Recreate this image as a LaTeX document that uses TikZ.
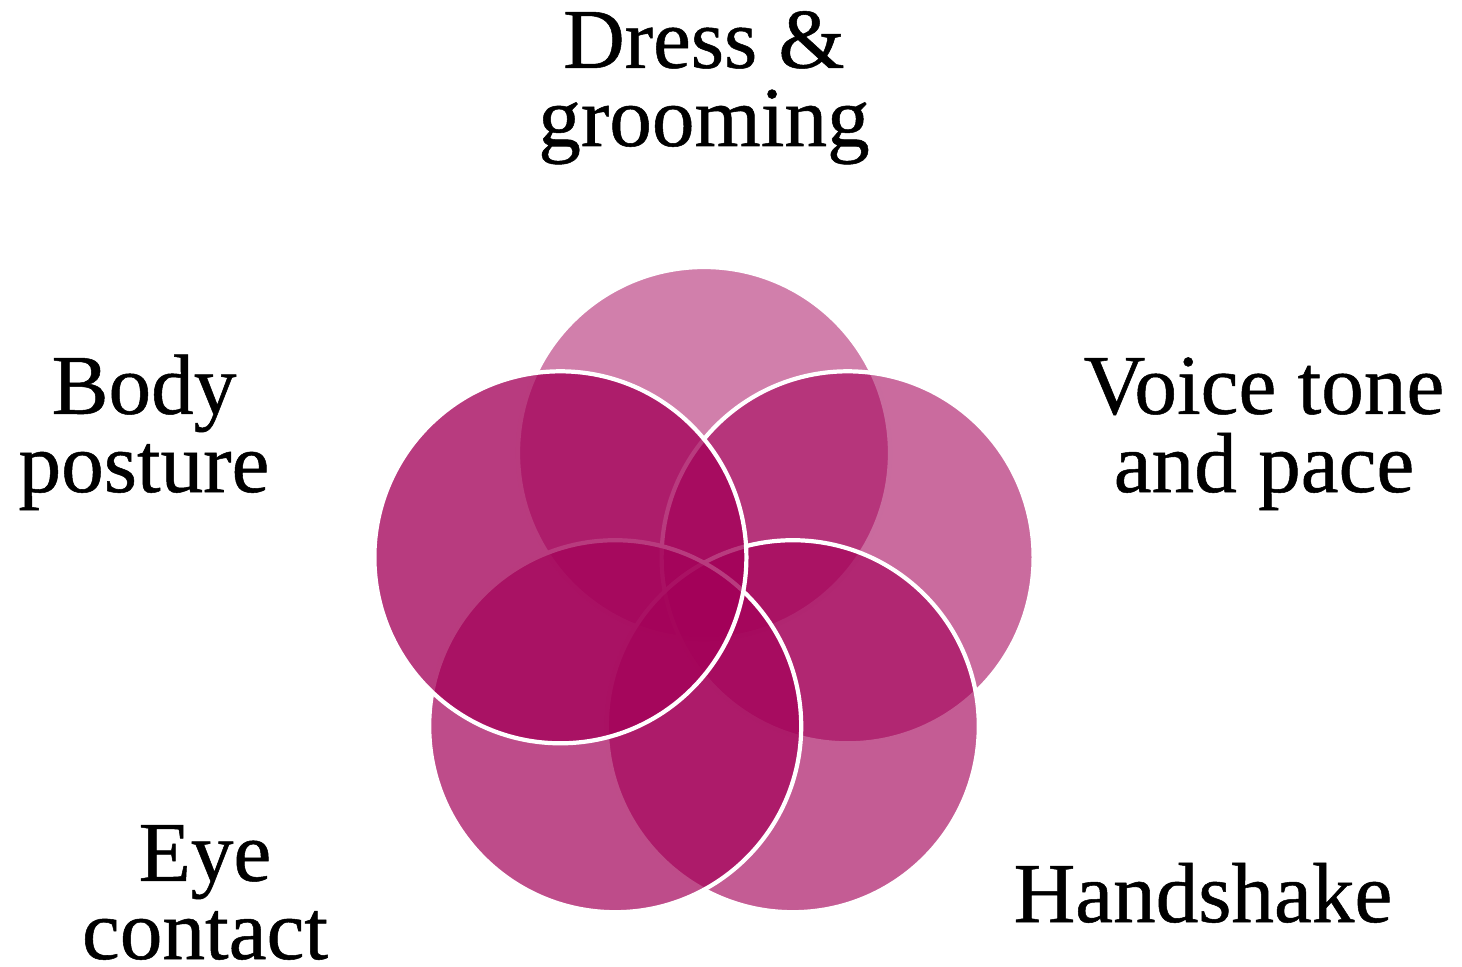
\documentclass[tikz,border=0pt]{standalone}
\usepackage{fontspec}
\setmainfont{Liberation Serif}
\newfontfamily\lblfont{Liberation Serif}[FakeBold=0.6]
\definecolor{petal}{RGB}{163,0,88}
\tikzset{
  petalc/.style={draw=white, line width=2.4pt, fill=petal, fill opacity=#1},
  lbl/.style={align=center, inner sep=0pt, anchor=base, font=\lblfont\fontsize{48.5}{44.5}\selectfont}
}
\begin{document}
\begin{tikzpicture}[x=0.02cm, y=-0.02cm]
\useasboundingbox (0,0) rectangle (1462,966);
\coordinate (ctr) at (704,604);
\coordinate (ctop) at (704,453);
\coordinate (cright) at (847.6,557.3);
\coordinate (cbr) at (792.8,726.2);
\coordinate (cbl) at (615.2,726.2);
\coordinate (cleft) at (560.4,557.3);
\draw[petalc=0.50] (ctop) circle (186);
\draw[petalc=0.58] (cright) circle (186);
\draw[petalc=0.64] (cbr) circle (186);
\draw[petalc=0.70] (cbl) circle (186);
\draw[petalc=0.77] (cleft) circle (186);
\node[lbl] (dress) at (704,146) {Dress \&\\grooming};
\node[lbl] (body) at (144,492) {Body\\posture};
\node[lbl] (voice) at (1264,492) {Voice tone\\and pace};
\node[lbl] (eye) at (205,959) {Eye\\contact};
\node[lbl] (hand) at (1203,922) {Handshake};
\end{tikzpicture}
\end{document}
